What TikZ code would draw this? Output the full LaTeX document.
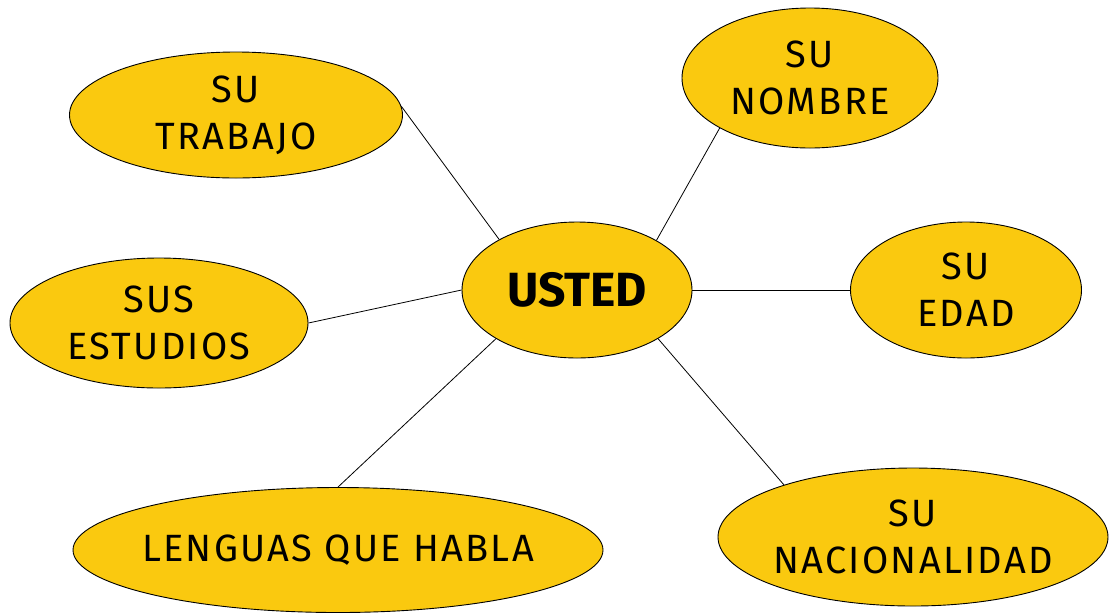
\documentclass[tikz,border=0pt]{standalone}
\usepackage{fontspec}
\setmainfont{Fira Sans}
\newfontfamily\spaced{Fira Sans}[LetterSpace=6]
\usetikzlibrary{shapes.geometric}
\definecolor{bubble}{HTML}{FAC90F}
\tikzset{
  bub/.style={ellipse, draw=black, line width=0.9pt, fill=bubble, inner sep=0pt},
  txt/.style={align=center, font=\spaced\fontsize{38}{47}\selectfont, text=black},
  bigtxt/.style={align=center, font=\fontsize{48}{56}\selectfont\bfseries, text=black},
  conn/.style={draw=black, line width=0.8pt}
}
\begin{document}
\begin{tikzpicture}[x=1pt,y=-1pt]
\path[use as bounding box] (0,0) rectangle (1110,614);
\node[bub, minimum width=333pt, minimum height=126pt, label={[txt]center:SU\\TRABAJO}] (trabajo) at (236,115) {};
\node[bub, minimum width=256pt, minimum height=140pt, label={[txt]center:SU\\NOMBRE}] (nombre) at (810,78) {};
\node[bub, minimum width=230pt, minimum height=136pt, label={[bigtxt]center:USTED}] (usted) at (577,290) {};
\node[bub, minimum width=231pt, minimum height=136pt, label={[txt]center:SU\\EDAD}] (edad) at (966,290) {};
\node[bub, minimum width=298pt, minimum height=130pt, label={[txt]center:SUS\\ESTUDIOS}] (estudios) at (159,323) {};
\node[bub, minimum width=530pt, minimum height=125pt, label={[txt]center:LENGUAS QUE HABLA}] (lenguas) at (338,550) {};
\node[bub, minimum width=390pt, minimum height=138pt, label={[txt]center:SU\\NACIONALIDAD}] (nacionalidad) at (913,537) {};
\draw[conn] (usted.147) -- (trabajo.3);
\draw[conn] (usted.32) -- (nombre.209);
\draw[conn] (usted.0) -- (edad.180);
\draw[conn] (usted.180) -- (estudios.0);
\draw[conn] (usted.211) -- (lenguas.90);
\draw[conn] (usted.329) -- (nacionalidad.158);
\end{tikzpicture}
\end{document}
